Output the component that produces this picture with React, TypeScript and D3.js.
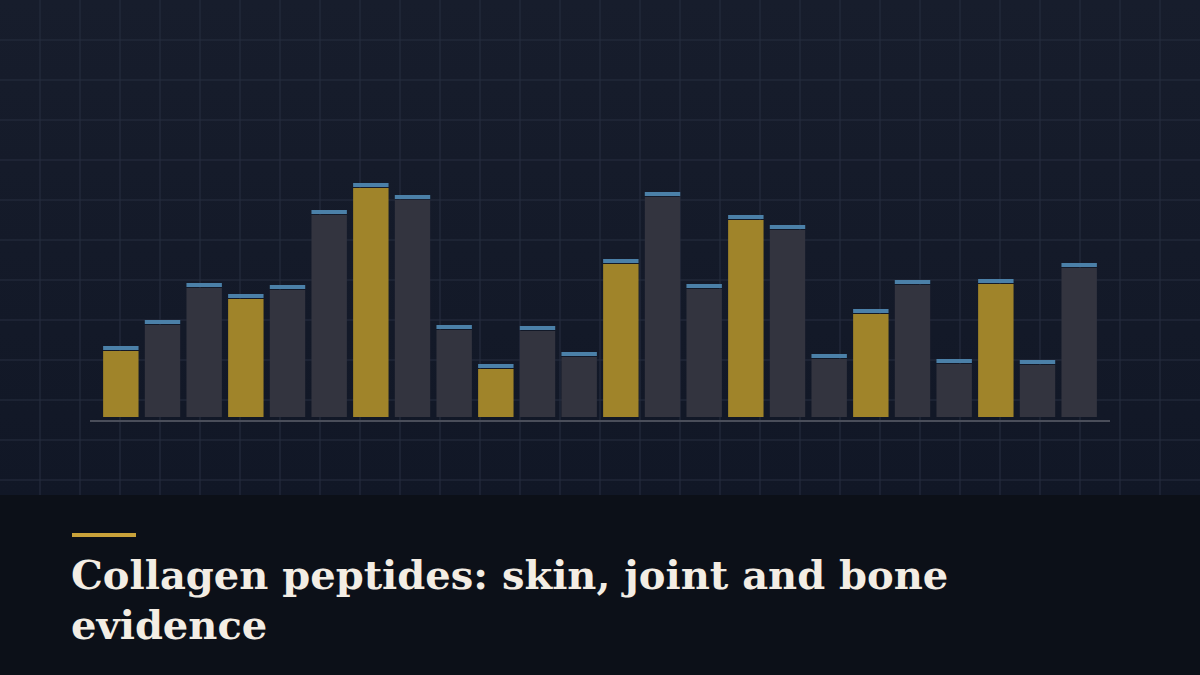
import React from 'react';
import { scaleBand, scaleLinear, range } from 'd3';

// bar heights (arbitrary 0-100 units)
const categories = Array.from({ length: 24 }, (_, i) => `S${i + 1}`);
const values = [28.4, 38.8, 53.6, 49.2, 52.8, 82.8, 93.6, 88.8, 36.8, 21.2, 36.4, 26, 63.2, 90, 53.2, 80.8, 76.8, 25.2, 43.2, 54.8, 23.2, 55.2, 22.8, 61.6];
const highlighted = [true, false, false, true, false, false, true, false, false, true, false, false, true, false, false, true, false, false, true, false, false, true, false, false];
const titleLines = ['Collagen peptides: skin, joint and bone', 'evidence'];

const W = 1200;
const H = 675;

const App = () => {
    let plot = { left: 100, right: 1100, top: 167, bottom: 417 };
    let bandTop = 495;

    let x = scaleBand<string>().domain(categories).range([plot.left, plot.right]).paddingInner(0.15).paddingOuter(0.075);
    let y = scaleLinear().domain([0, 100]).range([plot.bottom, plot.top]);

    let gridX = range(40, W, 40);
    let gridY = range(40, bandTop, 40);

    let bars = categories.map((c, i) => {
        let top = y(values[i]);
        return (
            <g key={c}>
                <rect x={x(c)} y={top + 5} width={x.bandwidth()} height={plot.bottom - top - 5} fill={highlighted[i] ? '#a0842a' : '#33343f'} />
                <rect x={x(c)} y={top} width={x.bandwidth()} height={4} fill='#4b80a8' />
            </g>
        )
    });

    return (
        <div style={{ position: 'fixed', left: 0, top: 0, width: W, height: H }}>
            <svg width={W} height={H} style={{ display: 'block' }}>
                <defs>
                    <linearGradient id="bg" x1="0" y1="0" x2="0" y2="1">
                        <stop offset="0" stopColor="#171d2c" />
                        <stop offset="1" stopColor="#111726" />
                    </linearGradient>
                </defs>
                <rect x={0} y={0} width={W} height={bandTop} fill="url(#bg)" />
                <g stroke="#262e3f" strokeOpacity={0.7} strokeWidth={1.5}>
                    {gridX.map(v => <line key={'gx' + v} x1={v} x2={v} y1={0} y2={bandTop} />)}
                    {gridY.map(v => <line key={'gy' + v} x1={0} x2={W} y1={v} y2={v} />)}
                </g>

                <g>{bars}</g>
                <line x1={90} x2={1110} y1={421} y2={421} stroke="#4a4e5a" strokeWidth={2} />

                <rect x={0} y={bandTop} width={W} height={H - bandTop} fill="#0c1018" />
                <rect x={72} y={533} width={64} height={4} fill="#c9a23a" />
                <g fontFamily="'DejaVu Serif', serif" fontWeight="bold" fontSize={40} fill="#f3ede4">
                    {titleLines.map((t, i) => <text key={i} x={71} y={589 + i * 50}>{t}</text>)}
                </g>
            </svg>
        </div>
    )
}

export default App;
